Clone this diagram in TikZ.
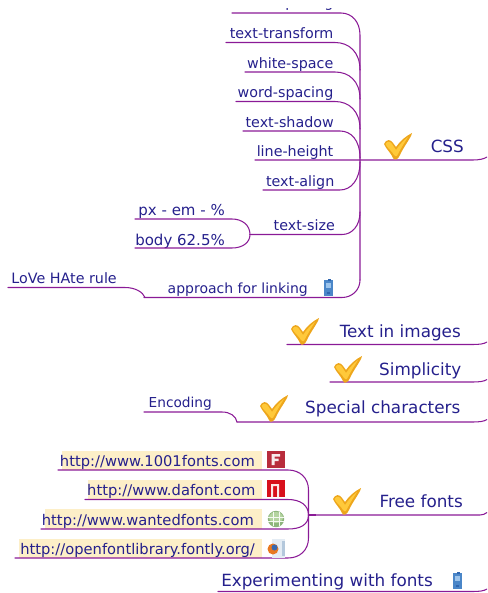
\documentclass[tikz,border=0pt]{standalone}
\usepackage{fontspec}
\setmainfont{DejaVu Sans}
\definecolor{tcol}{HTML}{25208C}
\definecolor{lcol}{HTML}{8A1A96}
\definecolor{hl}{HTML}{FDEFC8}
\definecolor{chkA}{HTML}{FFC93A}
\definecolor{chkB}{HTML}{EDA61C}
\definecolor{phoneA}{HTML}{4A86C8}
\definecolor{phoneB}{HTML}{2F66B0}
\definecolor{phoneC}{HTML}{9CC4EC}
\definecolor{iconF}{HTML}{B82C3C}
\definecolor{iconD}{HTML}{D8101C}
\definecolor{globeA}{HTML}{8DB57C}
\definecolor{globeB}{HTML}{B4D4A0}
\definecolor{pageA}{HTML}{E4ECF4}
\definecolor{pageB}{HTML}{B4C8DC}
\definecolor{foxA}{HTML}{E87820}
\definecolor{foxB}{HTML}{3868B0}
\tikzset{
  x=1pt,y=-1pt,
  lab/.style={anchor=base east,inner sep=0pt,text=tcol,font=\fontsize{14.3}{16}\selectfont},
  big/.style={anchor=base east,inner sep=0pt,text=tcol,font=\fontsize{16.8}{19}\selectfont},
  url/.style={anchor=base east,inner sep=0pt,text=tcol,font=\fontsize{14.7}{17}\selectfont},
  conn/.style={draw=lcol,line width=1.05pt,line cap=round},
  chk/.pic={
    \fill[chkB] (0,11) .. controls (2,6) and (7,6) .. (9,10) -- (12,14) .. controls (16,8) and (22,3) .. (28,0)
      .. controls (27,5) and (20,13) .. (16,22) .. controls (14,27) and (10,28) .. (9,25)
      .. controls (7,20) and (2,16) .. (0,11) -- cycle;
    \fill[chkA] (1.5,11) .. controls (3,8) and (6,8) .. (8,11) -- (12,17) .. controls (16,11) and (20,7) .. (24,4)
      .. controls (21,9) and (17,15) .. (14,21) .. controls (13,24) and (11,24) .. (10,22)
      .. controls (8,18) and (3,15) .. (1.5,11) -- cycle;
  },
  phone/.pic={
    \fill[phoneA] (1,1) rectangle (10,17);
    \fill[phoneC] (3,4) rectangle (8,9);
    \fill[phoneB] (5,-0.5) rectangle (8,2);
    \fill[phoneB] (4,13) rectangle (7,15);
  }
}
\begin{document}
\begin{tikzpicture}
\useasboundingbox (0,0) rectangle (487,593);
\clip (0,0) rectangle (487,593);

% highlights
\fill[hl] (62,451) rectangle (262,470);
\fill[hl] (88,480) rectangle (262,499);
\fill[hl] (45,509) rectangle (262,529);
\fill[hl] (19,539) rectangle (262,558);

% spine coordinates
\coordinate (sp1) at (360,35);
\coordinate (sp2) at (360,280);
\coordinate (ff1) at (308.5,490);
\coordinate (ff2) at (308.5,538);
\coordinate (ffc) at (308.5,515);

% labels
\node[lab] (letter) at (333.5,7.5) {letter-spacing};
\fill[white] (200,0) rectangle (345,8);
\node[lab] (transform) at (333.5,38.5) {text-transform};
\node[lab] (white) at (333.5,68.5) {white-space};
\node[lab] (word) at (333.5,97.5) {word-spacing};
\node[lab] (shadow) at (334,127.5) {text-shadow};
\node[lab] (lineh) at (333.5,156.5) {line-height};
\node[lab] (align) at (334.5,186.5) {text-align};
\node[lab] (size) at (335,230.5) {text-size};
\node[lab,font=\fontsize{15}{17}\selectfont] (px) at (225,216) {px - em - \%};
\node[lab,font=\fontsize{15}{17}\selectfont] (body) at (225,245) {body 62.5\%};
\node[lab,font=\fontsize{14}{16}\selectfont] (approach) at (308,293.5) {approach for linking};
\node[lab] (love) at (117,283.5) {LoVe HAte rule};
\node[lab,font=\fontsize{13.7}{16}\selectfont] (encoding) at (212,407.5) {Encoding};
\node[big] (css) at (464,153) {CSS};
\node[big] (images) at (461,337.5) {Text in images};
\node[big] (simple) at (461.5,375.5) {Simplicity};
\node[big] (special) at (460.5,413.5) {Special characters};
\node[big] (free) at (463,507.5) {Free fonts};
\node[big] (exper) at (433,586) {Experimenting with fonts};
\node[url] (u1) at (255,466) {http://www.1001fonts.com};
\node[url] (u2) at (255.5,495) {http://www.dafont.com};
\node[url] (u3) at (254,525) {http://www.wantedfonts.com};
\node[url] (u4) at (255,554) {http://openfontlibrary.fontly.org/};

% CSS connectors
\draw[conn] (232,13) -- (341,13) .. controls (352,13) and (360,22) .. (sp1) -- (sp2);
\draw[conn] (226,42.5) -- (335,42.5) .. controls (349,42.5) and (360,52) .. (360,70);
\draw[conn] (245,72) -- (335,72) .. controls (349,72) and (360,81) .. (360,99);
\draw[conn] (236,101.5) -- (335,101.5) .. controls (349,101.5) and (360,111) .. (360,129);
\draw[conn] (243,131) -- (340,131) .. controls (351,131) and (360,140) .. (360,158);
\draw[conn] (255,160) -- (473,160) .. controls (479,160) and (484,159) .. (487,157);
\draw[conn] (263,190) -- (340,190) .. controls (351,190) and (360,180) .. (360,162);
\draw[conn] (250,234.5) -- (342,234.5) .. controls (352,234.5) and (360,226) .. (360,212);
\draw[conn] (144,297.5) -- (342,297.5) .. controls (352,297.5) and (360,290) .. (sp2);
\draw[conn] (135,219) -- (232,219) .. controls (242,219) and (250,225) .. (250,234.5);
\draw[conn] (135,248) -- (232,248) .. controls (242,248) and (250,243) .. (250,234.5);
\draw[conn] (8,287.5) -- (125,287.5) .. controls (135,287.5) and (143,292) .. (145,297.5);

% others
\draw[conn] (287,344.5) -- (473,344.5) .. controls (479,344.5) and (484,344) .. (487,342);
\draw[conn] (330,382) -- (473,382) .. controls (479,382) and (484,381.5) .. (487,379.5);
\draw[conn] (237,422) -- (473,422) .. controls (479,422) and (484,421.5) .. (487,419.5);
\draw[conn] (144,412) -- (222,412) .. controls (230,412) and (236,416) .. (237,422);
\draw[conn] (308.5,515) -- (480,515) .. controls (483,515) and (485,514) .. (487,512.5);
\draw[conn] (218,591.5) -- (473,591.5) .. controls (479,591.5) and (484,591) .. (487,589);

% free fonts children
\draw[conn] (58,470) -- (288,470) .. controls (300,470) and (308.5,478) .. (ff1) -- (ff2) .. controls (308.5,550) and (300,558) .. (288,558) -- (15,558);
\draw[conn] (85,499.5) -- (288,499.5) .. controls (300,499.5) and (308.5,505) .. (ffc);
\draw[conn] (41,529) -- (288,529) .. controls (300,529) and (308.5,525) .. (ffc);
\draw[lcol,line width=1.4pt] (308.5,515) -- (316,515);

% checks
\pic at (384,133) {chk};
\pic at (291,318) {chk};
\pic at (334,356) {chk};
\pic at (260,395) {chk};
\pic at (333,488) {chk};

% phones
\pic at (322.5,279) {phone};
\pic at (451.5,572) {phone};

% F icon
\fill[iconF] (267,451) rectangle (285,468);
\fill[white!90!iconF] (271.5,454) rectangle (280,456.5) (271.5,454) rectangle (274.5,465) (271.5,458.5) rectangle (278.5,461);
% dafont icon
\fill[iconD] (267,480) rectangle (285,497);
\fill[white!90!iconD] (271,484) rectangle (279,486) (271,484) rectangle (273,497) (277,484) rectangle (279,497);
% globe icon
\fill[globeA] (276,519) circle (8.2);
\fill[globeB] (276,517.5) ellipse (7 and 5.5);
\draw[white!85!globeB,line width=0.6pt] (268,517) -- (284,517) (268,521) -- (284,521) (273,512) -- (273,526) (279,512) -- (279,526);
% page with firefox icon
\fill[pageA] (272,539) rectangle (285,558);
\fill[pageB] (282,541) rectangle (285,556);
\fill[foxA] (273,549) circle (5.5);
\fill[foxB] (274.5,547.5) circle (3);
\end{tikzpicture}
\end{document}
